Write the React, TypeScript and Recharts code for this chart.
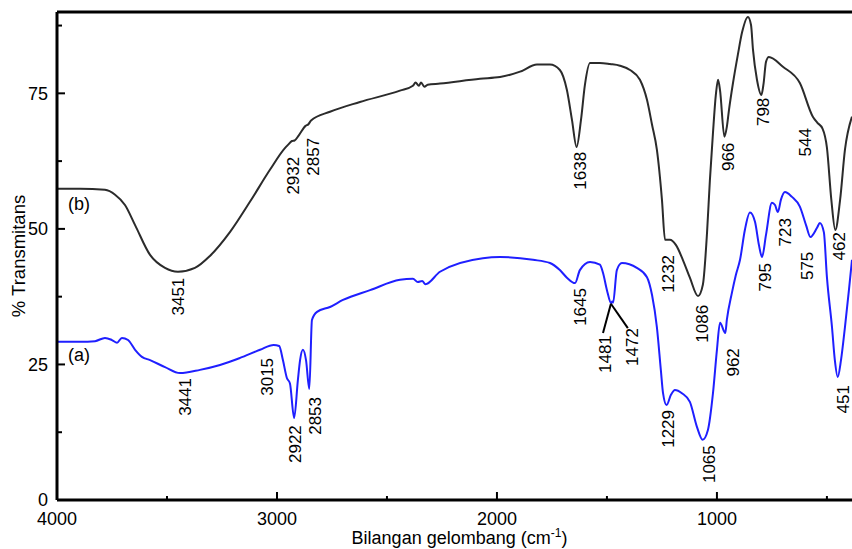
import React from "react"
import {
  LineChart,
  Line,
  XAxis,
  YAxis,
  ReferenceDot,
  ReferenceLine,
  Label,
} from "recharts"

// wavenumber (cm-1) / % transmittance
const specB = [
  [4000, 57.4], [3895, 57.4], [3782, 57.2], [3736, 56.3], [3691, 54.4], [3645, 50.7],
  [3577, 45.2], [3509, 42.8], [3450, 42.1], [3373, 42.8], [3305, 45.0], [3214, 49.4],
  [3123, 55.0], [3032, 60.9], [2964, 64.9], [2950, 65.5], [2932, 66.2], [2920, 66.3],
  [2900, 67.3], [2870, 69.0], [2857, 69.3], [2845, 70.0], [2759, 71.6], [2623, 73.4],
  [2441, 75.5], [2382, 76.4], [2370, 77.0], [2355, 76.4], [2345, 77.0], [2330, 76.2],
  [2315, 76.6], [2259, 76.8], [2077, 77.7], [1986, 78.0], [1895, 79.0], [1818, 80.3],
  [1759, 80.3], [1714, 79.3], [1682, 75.6], [1659, 70.1], [1638, 65.1], [1618, 70.1],
  [1600, 76.6], [1577, 80.6], [1532, 80.6], [1486, 80.4], [1441, 80.1], [1395, 79.3],
  [1350, 77.5], [1318, 73.8], [1295, 69.2], [1273, 64.6], [1250, 55.4], [1236, 48.0],
  [1214, 48.0], [1186, 47.0], [1155, 44.3], [1123, 41.0], [1086, 37.6], [1064, 39.7],
  [1045, 49.3], [1032, 59.0], [1018, 67.7], [1005, 74.7], [995, 77.5], [986, 75.6],
  [966, 67.0], [955, 68.8], [945, 72.0], [927, 76.9], [905, 82.1], [886, 86.2],
  [859, 89.1], [845, 87.6], [836, 83.0], [818, 77.5], [798, 74.7], [788, 76.8],
  [777, 80.8], [764, 81.7], [700, 79.9], [623, 76.9], [564, 70.7], [544, 69.6],
  [520, 68.5], [500, 65.0], [480, 55.4], [462, 49.8], [440, 55.4], [418, 64.6],
  [386, 70.7],
]

const specA = [
  [4000, 29.2], [3895, 29.2], [3827, 29.3], [3782, 29.9], [3750, 29.5], [3727, 29.0],
  [3705, 29.9], [3677, 29.5], [3645, 27.7], [3614, 26.4], [3577, 25.8], [3509, 24.5],
  [3441, 23.4], [3350, 24.0], [3259, 24.9], [3168, 26.2], [3077, 27.7], [3015, 28.6],
  [2990, 28.4], [2973, 25.8], [2955, 22.5], [2941, 21.5], [2922, 15.1], [2905, 22.1],
  [2895, 25.8], [2882, 27.7], [2868, 25.8], [2853, 20.5], [2841, 33.2], [2818, 34.7],
  [2759, 35.6], [2700, 36.9], [2577, 38.7], [2441, 40.6], [2382, 40.8], [2360, 40.2],
  [2340, 40.4], [2325, 39.8], [2259, 42.1], [2064, 44.6], [1986, 44.8], [1836, 44.3],
  [1759, 43.7], [1714, 42.4], [1682, 41.0], [1645, 40.0], [1623, 42.4], [1577, 43.9],
  [1532, 43.4], [1518, 41.9], [1500, 38.7], [1481, 36.3], [1476, 36.6], [1472, 36.4],
  [1455, 42.4], [1432, 43.7], [1364, 42.8], [1318, 41.1], [1295, 37.8], [1273, 31.9],
  [1255, 24.0], [1245, 19.7], [1229, 17.5], [1209, 19.4], [1191, 20.3], [1159, 19.7],
  [1123, 18.1], [1091, 13.5], [1065, 11.1], [1041, 12.9], [1018, 19.7], [1000, 27.7],
  [986, 32.7], [962, 30.8], [955, 33.2], [932, 38.2], [914, 41.5], [895, 44.3],
  [873, 49.8], [850, 53.0], [827, 51.3], [809, 47.0], [795, 44.8], [777, 48.9],
  [750, 54.8], [736, 54.4], [723, 53.1], [709, 55.4], [691, 56.8], [659, 55.9],
  [623, 54.1], [595, 50.7], [575, 48.5], [545, 50.2], [532, 51.1], [514, 49.4],
  [500, 41.1], [477, 31.9], [464, 25.8], [451, 22.7], [436, 25.8], [418, 31.9],
  [400, 38.7], [386, 44.3],
]

// peak labels: text, wavenumber at label centre, transmittance at label top
const peaksB = [
  ["3451", 3450, 41.0], ["2932", 2927, 63.3], ["2857", 2836, 66.8], ["1638", 1623, 64.2],
  ["1232", 1223, 45.2], ["1086", 1068, 36.0], ["966", 950, 65.9], ["798", 791, 74.2],
  ["544", 600, 68.6], ["462", 445, 49.4],
]
const peaksA = [
  ["3441", 3418, 22.5], ["3015", 3045, 26.2], ["2922", 2918, 13.8], ["2853", 2827, 19.0],
  ["1645", 1623, 39.1], ["1481", 1509, 30.4], ["1472", 1386, 31.7], ["1229", 1223, 16.6],
  ["1065", 1036, 10.1], ["962", 927, 28.0], ["795", 782, 43.7], ["723", 691, 52.0],
  ["575", 591, 45.8], ["451", 427, 21.2],
]

const xTicks = [4000, 3500, 3000, 2500, 2000, 1500, 1000, 500]
const yTicks = [0, 12.5, 25, 37.5, 50, 62.5, 75, 87.5]

const dataB = specB.map(([wn, t]) => ({ wn, t }))
const dataA = specA.map(([wn, t]) => ({ wn, t }))

const FONT = "'Liberation Sans', Arial, sans-serif"

const YTick = ({ x, y, payload }: any) => {
  const v = payload.value
  const major = v % 25 === 0
  return (
    <g>
      <line x1={x} x2={x + (major ? 8 : 5)} y1={y} y2={y} stroke="#000" strokeWidth={2} />
      {major && (
        <text x={x - 9} y={y} dy="0.36em" textAnchor="end" fontSize={18} fontFamily={FONT} fill="#000">
          {v}
        </text>
      )}
    </g>
  )
}

const XTick = ({ x, y, payload }: any) => {
  const v = payload.value
  const major = v % 1000 === 0
  return (
    <g>
      <line x1={x} x2={x} y1={y} y2={y - (major ? 8 : 4)} stroke="#000" strokeWidth={2} />
      {major && (
        <text x={x} y={y + 25} textAnchor="middle" fontSize={18} fontFamily={FONT} fill="#000">
          {v}
        </text>
      )}
    </g>
  )
}

const vText = (txt: string) => (p: any) => (
  <text
    x={p.cx}
    y={p.cy}
    dy="0.36em"
    transform={`rotate(-90, ${p.cx}, ${p.cy})`}
    textAnchor="end"
    fontSize={17}
    fontFamily={FONT}
    fill="#000"
  >
    {txt}
  </text>
)

const hText = (txt: string) => (p: any) => (
  <text x={p.cx} y={p.cy} dy="0.36em" fontSize={18} fontFamily={FONT} fill="#000">
    {txt}
  </text>
)

export default function App() {
  return (
    <div style={{ position: "absolute", left: 0, top: 0, width: 852, height: 549, background: "#fff" }}>
      <LineChart width={852} height={549} margin={{ top: 12, right: 0, bottom: 0, left: 0 }}>
        <XAxis
          dataKey="wn"
          type="number"
          domain={[386, 4000]}
          reversed
          allowDataOverflow
          ticks={xTicks}
          tick={<XTick />}
          tickSize={0}
          tickMargin={0}
          height={49}
          axisLine={{ stroke: "#000", strokeWidth: 3 }}
        >
          <Label
            content={(p: any) => (
              <text
                x={p.viewBox.x + p.viewBox.width / 2 + 5}
                y={p.viewBox.y + 44}
                textAnchor="middle"
                fontSize={18}
                fontFamily={FONT}
                fill="#000"
              >
                Bilangan gelombang (cm
                <tspan dy={-7} fontSize={12}>-1</tspan>
                <tspan dy={7}>)</tspan>
              </text>
            )}
          />
        </XAxis>
        <YAxis
          type="number"
          domain={[0, 90]}
          allowDataOverflow
          ticks={yTicks}
          tick={<YTick />}
          tickSize={0}
          tickMargin={0}
          width={57}
          axisLine={{ stroke: "#000", strokeWidth: 3 }}
        >
          <Label
            content={(p: any) => {
              const cx = 18
              const cy = p.viewBox.y + p.viewBox.height / 2
              return (
                <text
                  x={cx}
                  y={cy}
                  dy="0.36em"
                  textAnchor="middle"
                  transform={`rotate(-90, ${cx}, ${cy})`}
                  fontSize={18.5}
                  fontFamily={FONT}
                  fill="#000"
                >
                  % Transmitans
                </text>
              )
            }}
          />
        </YAxis>
        <ReferenceLine y={90} stroke="#000" strokeWidth={3} />
        <Line
          data={dataB}
          dataKey="t"
          type="monotone"
          stroke="#2b2b2b"
          strokeWidth={2}
          dot={false}
          isAnimationActive={false}
        />
        <Line
          data={dataA}
          dataKey="t"
          type="monotone"
          stroke="#1f1fff"
          strokeWidth={2}
          dot={false}
          isAnimationActive={false}
        />
        {peaksB.map(([txt, wn, t]) => (
          <ReferenceDot key={"b" + txt} x={wn as number} y={t as number} r={0} shape={vText(txt as string)} />
        ))}
        {peaksA.map(([txt, wn, t]) => (
          <ReferenceDot key={"a" + txt} x={wn as number} y={t as number} r={0} shape={vText(txt as string)} />
        ))}
        <ReferenceLine
          segment={[{ x: 1482, y: 36.2 }, { x: 1518, y: 30.8 }]}
          stroke="#000"
          strokeWidth={2}
        />
        <ReferenceLine
          segment={[{ x: 1482, y: 36.2 }, { x: 1405, y: 31.7 }]}
          stroke="#000"
          strokeWidth={2}
        />
        <ReferenceDot x={3950} y={54.6} r={0} shape={hText("(b)")} />
        <ReferenceDot x={3950} y={26.8} r={0} shape={hText("(a)")} />
      </LineChart>
    </div>
  )
}
